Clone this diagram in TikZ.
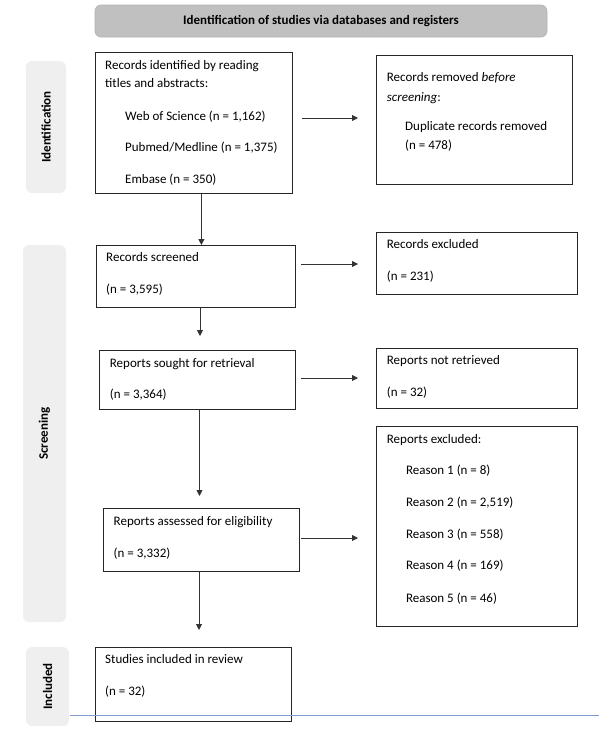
\documentclass[tikz,border=0pt]{standalone}
\usepackage{fontspec}
\setmainfont{Carlito}
\usetikzlibrary{arrows.meta,calc}
\definecolor{hdrgray}{HTML}{C0C0C0}
\definecolor{sidegray}{HTML}{EFEFEF}
\definecolor{bluel}{HTML}{7E9CD0}
\tikzset{
  box/.style={draw=black!85, line width=1.3pt},
  hdr/.style={fill=hdrgray, draw=black!30, line width=0.6pt, rounded corners=6pt},
  side/.style={fill=sidegray, draw=none, rounded corners=6pt},
  txt/.style={anchor=mid west, inner sep=0pt, font=\fontsize{13}{15}\selectfont},
  sidetxt/.style={rotate=90, inner sep=0pt, font=\bfseries\fontsize{13}{15}\selectfont},
  arr/.style={draw=black!80, line width=0.9pt, -{Triangle[length=6pt,width=6pt]}},
}
\begin{document}
\begin{tikzpicture}[x=1pt,y=-1pt]
\useasboundingbox (0,0) rectangle (599,729);
% header and side bars
\draw[hdr] (95,5) rectangle (547,37);
\node[inner sep=0pt, font=\bfseries\fontsize{13}{15}\selectfont] (hdrtxt) at (321,21.3) {Identification of studies via databases and registers};
\fill[side] (26,61) rectangle (66,193);
\fill[side] (23,245) rectangle (66,622);
\fill[side] (26,647) rectangle (69,726);
\node[sidetxt] (sid) at (46,127) {Identification};
\node[sidetxt] (sscr) at (44.5,433.5) {Screening};
\node[sidetxt] (sinc) at (47.5,686.5) {Included};
% boxes
\node[box, inner sep=0pt, minimum width=197pt, minimum height=141pt, anchor=north west] (B1) at (95,52) {};
\node[box, inner sep=0pt, minimum width=196pt, minimum height=129pt, anchor=north west] (B2) at (376,55) {};
\node[box, inner sep=0pt, minimum width=199pt, minimum height=62pt, anchor=north west] (B3) at (96,245) {};
\node[box, inner sep=0pt, minimum width=201pt, minimum height=62pt, anchor=north west] (B4) at (376,232) {};
\node[box, inner sep=0pt, minimum width=196pt, minimum height=59pt, anchor=north west] (B5) at (99,350) {};
\node[box, inner sep=0pt, minimum width=201pt, minimum height=60pt, anchor=north west] (B6) at (376,348) {};
\node[box, inner sep=0pt, minimum width=196pt, minimum height=63pt, anchor=north west] (B7) at (103,508) {};
\node[box, inner sep=0pt, minimum width=201pt, minimum height=200pt, anchor=north west] (B8) at (376,426) {};
\node[box, inner sep=0pt, minimum width=196pt, minimum height=74pt, anchor=north west] (B9) at (95,647) {};
% texts
\node[txt] (t1a) at (105,67.5) {Records identified by reading};
\node[txt] (t1b) at (105,85) {titles and abstracts:};
\node[txt] (t1c) at (125,118) {Web of Science (n = 1,162)};
\node[txt] (t1d) at (125,149.5) {Pubmed/Medline (n = 1,375)};
\node[txt] (t1e) at (125,181.5) {Embase (n = 350)};
\node[txt] (t2a) at (386.7,79.5) {Records removed \textit{before}};
\node[txt] (t2b) at (386.7,99) {\textit{screening}:};
\node[txt] (t2c) at (405,128.5) {Duplicate records removed};
\node[txt] (t2d) at (405,147.5) {(n = 478)};
\node[txt] (t3a) at (106,259.5) {Records screened};
\node[txt] (t3b) at (106,291.5) {(n = 3,595)};
\node[txt] (t4a) at (386.7,246.5) {Records excluded};
\node[txt] (t4b) at (386.7,278.5) {(n = 231)};
\node[txt] (t5a) at (109.7,365) {Reports sought for retrieval};
\node[txt] (t5b) at (109.7,396.5) {(n = 3,364)};
\node[txt] (t6a) at (386.7,362.5) {Reports not retrieved};
\node[txt] (t6b) at (386.7,394.5) {(n = 32)};
\node[txt] (t7a) at (113.5,523) {Reports assessed for eligibility};
\node[txt] (t7b) at (113.5,555) {(n = 3,332)};
\node[txt] (t8a) at (386.7,441.5) {Reports excluded:};
\node[txt] (t8b) at (405.8,472.5) {Reason 1 (n = 8)};
\node[txt] (t8c) at (405.8,504) {Reason 2 (n = 2,519)};
\node[txt] (t8d) at (405.8,536.5) {Reason 3 (n = 558)};
\node[txt] (t8e) at (405.8,567.5) {Reason 4 (n = 169)};
\node[txt] (t8f) at (405.8,600) {Reason 5 (n = 46)};
\node[txt] (t9a) at (105,661.5) {Studies included in review};
\node[txt] (t9b) at (105,693.5) {(n = 32)};
% arrows right
\draw[arr, shorten <=8.7pt, shorten >=18pt] (B1.east |- 0,118) -- (B2.west |- 0,118);
\draw[arr, shorten <=5pt, shorten >=18pt] (B3.east |- 0,264) -- (B4.west |- 0,264);
\draw[arr, shorten <=5pt, shorten >=18pt] (B5.east |- 0,378) -- (B6.west |- 0,378);
\draw[arr, shorten <=1pt, shorten >=18pt] (B7.east |- 0,538) -- (B8.west |- 0,538);
% arrows down
\draw[arr] (B1.south -| 201.4,0) -- (B3.north -| 201.4,0);
\draw[arr, shorten >=14pt] (B3.south -| 200,0) -- (B5.north -| 200,0);
\draw[arr, shorten >=12pt] (B5.south -| 199.5,0) -- (B7.north -| 199.5,0);
\draw[arr, shorten >=17pt] (B7.south -| 199,0) -- (B9.north -| 199,0);
% blue line
\coordinate (bl1) at (70,715);
\coordinate (bl2) at (599,715);
\draw[bluel, line width=1pt] (bl1) -- (bl2);
\end{tikzpicture}
\end{document}
